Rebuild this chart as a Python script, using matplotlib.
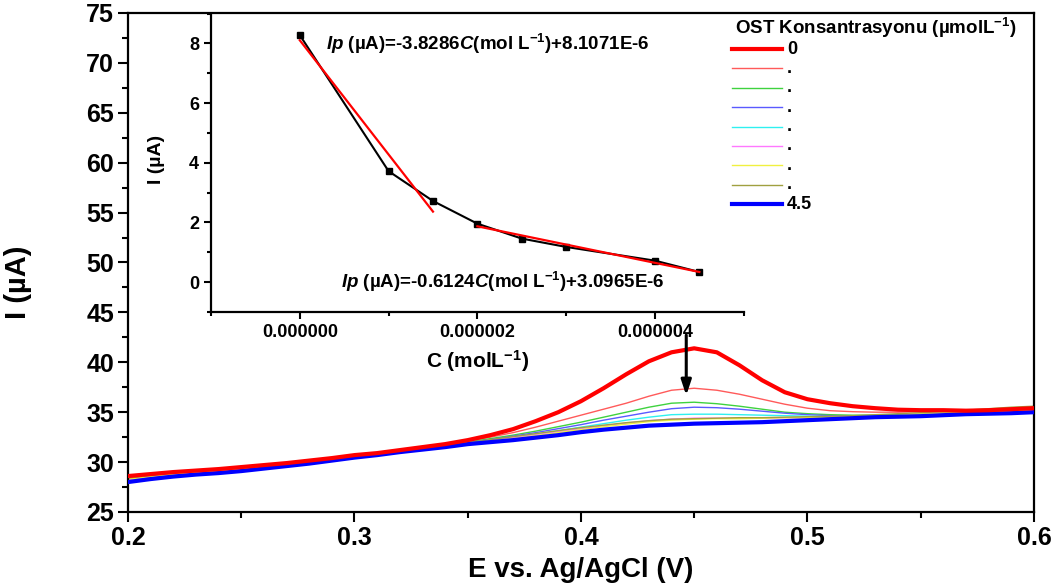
import matplotlib

matplotlib.use("Agg")
import matplotlib.pyplot as plt
import numpy as np
from matplotlib.ticker import FormatStrFormatter, MultipleLocator

plt.rcParams["font.family"] = ["Liberation Sans", "DejaVu Sans"]
plt.rcParams["font.weight"] = "bold"
plt.rcParams["axes.labelweight"] = "bold"
plt.rcParams["mathtext.fontset"] = "custom"
plt.rcParams["mathtext.rm"] = "Liberation Sans:bold"
plt.rcParams["mathtext.it"] = "Liberation Sans:italic:bold"
plt.rcParams["mathtext.bf"] = "Liberation Sans:bold"

# potential axis of the voltammograms (V)
potential = [0.20, 0.21, 0.22, 0.23, 0.24, 0.25, 0.26, 0.27, 0.28, 0.29,
             0.30, 0.31, 0.32, 0.33, 0.34, 0.35, 0.36, 0.37, 0.38, 0.39,
             0.40, 0.41, 0.42, 0.43, 0.44, 0.45, 0.46, 0.47, 0.48, 0.49,
             0.50, 0.51, 0.52, 0.53, 0.54, 0.55, 0.56, 0.57, 0.58, 0.59, 0.60]

# current (uA) for each OST concentration step
i_0 = [28.6, 28.8, 29.0, 29.15, 29.3, 29.5, 29.7, 29.9, 30.15, 30.4,
       30.7, 30.9, 31.2, 31.5, 31.8, 32.2, 32.7, 33.3, 34.1, 35.0,
       36.1, 37.4, 38.8, 40.1, 41.0, 41.4, 41.0, 39.7, 38.2, 37.0,
       36.3, 35.9, 35.6, 35.4, 35.25, 35.2, 35.2, 35.15, 35.2, 35.3, 35.4]
i_1 = [28.5, 28.7, 28.9, 29.1, 29.25, 29.45, 29.65, 29.85, 30.1, 30.35,
       30.65, 30.85, 31.15, 31.45, 31.75, 32.1, 32.5, 32.95, 33.5, 34.1,
       34.7, 35.3, 35.9, 36.6, 37.2, 37.4, 37.2, 36.8, 36.3, 35.8,
       35.4, 35.15, 35.05, 35.0, 35.0, 35.05, 35.1, 35.1, 35.15, 35.2, 35.3]
i_2 = [28.4, 28.65, 28.85, 29.05, 29.2, 29.4, 29.6, 29.8, 30.05, 30.3,
       30.6, 30.85, 31.15, 31.4, 31.7, 32.0, 32.35, 32.7, 33.1, 33.55,
       34.0, 34.5, 35.0, 35.5, 35.9, 36.0, 35.85, 35.6, 35.3, 35.0,
       34.85, 34.75, 34.7, 34.7, 34.75, 34.8, 34.9, 35.0, 35.1, 35.15, 35.25]
i_3 = [28.3, 28.6, 28.8, 29.0, 29.15, 29.35, 29.55, 29.75, 30.0, 30.25,
       30.55, 30.8, 31.1, 31.35, 31.65, 31.95, 32.25, 32.6, 32.95, 33.35,
       33.75, 34.2, 34.6, 35.0, 35.35, 35.5, 35.45, 35.3, 35.1, 34.9,
       34.75, 34.65, 34.6, 34.6, 34.65, 34.75, 34.85, 34.95, 35.05, 35.1, 35.2]
i_4 = [28.3, 28.55, 28.8, 29.0, 29.15, 29.3, 29.5, 29.7, 29.95, 30.2,
       30.5, 30.75, 31.05, 31.3, 31.6, 31.9, 32.2, 32.5, 32.8, 33.15,
       33.5, 33.85, 34.2, 34.5, 34.75, 34.8, 34.8, 34.75, 34.7, 34.65,
       34.6, 34.55, 34.55, 34.6, 34.65, 34.7, 34.8, 34.9, 35.0, 35.1, 35.15]
i_5 = [28.25, 28.5, 28.75, 28.95, 29.1, 29.3, 29.5, 29.7, 29.95, 30.2,
       30.5, 30.75, 31.05, 31.3, 31.6, 31.85, 32.15, 32.45, 32.75, 33.05,
       33.35, 33.65, 33.9, 34.15, 34.3, 34.4, 34.4, 34.4, 34.4, 34.45,
       34.45, 34.5, 34.5, 34.55, 34.6, 34.7, 34.8, 34.9, 35.0, 35.1, 35.2]
i_6 = [28.3, 28.55, 28.8, 29.0, 29.15, 29.35, 29.55, 29.75, 30.0, 30.25,
       30.55, 30.8, 31.05, 31.3, 31.55, 31.8, 32.1, 32.35, 32.65, 32.95,
       33.25, 33.55, 33.8, 34.05, 34.2, 34.3, 34.35, 34.35, 34.4, 34.45,
       34.45, 34.5, 34.55, 34.6, 34.7, 34.8, 34.9, 35.0, 35.1, 35.15, 35.25]
i_7 = [28.4, 28.65, 28.9, 29.1, 29.25, 29.45, 29.65, 29.85, 30.1, 30.35,
       30.65, 30.9, 31.2, 31.45, 31.7, 31.95, 32.25, 32.55, 32.85, 33.15,
       33.45, 33.7, 33.95, 34.15, 34.3, 34.35, 34.4, 34.45, 34.45, 34.5,
       34.55, 34.6, 34.65, 34.75, 34.85, 34.95, 35.05, 35.2, 35.35, 35.5, 35.6]
i_8 = [28.0, 28.3, 28.55, 28.75, 28.9, 29.1, 29.35, 29.6, 29.85, 30.15,
       30.45, 30.7, 31.0, 31.25, 31.5, 31.8, 32.0, 32.2, 32.45, 32.7,
       33.0, 33.25, 33.45, 33.65, 33.75, 33.85, 33.9, 33.95, 34.0, 34.1,
       34.2, 34.3, 34.4, 34.5, 34.55, 34.6, 34.7, 34.8, 34.85, 34.9, 35.0]

curves = [i_0, i_1, i_2, i_3, i_4, i_5, i_6, i_7, i_8]
curve_labels = ["0", ".", ".", ".", ".", ".", ".", ".", "4.5"]
curve_colors = ["#ff0000", "#ff5a5a", "#3fd23f", "#5a5aff", "#2ff0f0",
                "#ff78ff", "#f0f040", "#a0a040", "#0000ff"]
curve_widths = [3, 1, 1, 1, 1, 1, 1, 1, 3]

# peak current vs concentration (inset)
conc = [0.0, 1.0e-6, 1.5e-6, 2.0e-6, 2.5e-6, 3.0e-6, 4.0e-6, 4.5e-6]
ip = [8.28, 3.72, 2.72, 1.96, 1.46, 1.18, 0.72, 0.34]

# linear fits, slope per umol/L and intercept in uA
fit1_slope, fit1_icpt, fit1_range = -3.8286, 8.1071, (0.0, 1.5e-6)
fit2_slope, fit2_icpt, fit2_range = -0.6124, 3.0965, (2.0e-6, 4.5e-6)

W, H = 1055, 585
fig = plt.figure(figsize=(W / 100, H / 100), dpi=100)
ax = fig.add_axes([0.1213, 0.1248, 0.8587, 0.853])

order = [1, 2, 3, 4, 5, 6, 7, 8, 0]
for k in order:
    ax.plot(potential, curves[k], color=curve_colors[k], lw=curve_widths[k],
            zorder=3 if curve_widths[k] > 1 else 2)

ax.annotate("", xy=(0.4465, 36.4), xytext=(0.4465, 43.0),
            arrowprops=dict(arrowstyle="-|>,head_length=0.9,head_width=0.3",
                            color="black", lw=2.2), zorder=5)

ax.set_xlim(0.2, 0.6)
ax.set_ylim(25, 75)
ax.xaxis.set_major_locator(MultipleLocator(0.1))
ax.xaxis.set_minor_locator(MultipleLocator(0.05))
ax.yaxis.set_major_locator(MultipleLocator(5))
ax.yaxis.set_minor_locator(MultipleLocator(2.5))
ax.xaxis.set_major_formatter(FormatStrFormatter("%.1f"))
ax.tick_params(which="major", direction="out", length=7, width=1.5,
               labelsize=18, pad=3)
ax.tick_params(which="minor", direction="out", length=4, width=1.5)
for s in ax.spines.values():
    s.set_linewidth(1.6)
ax.set_xlabel("E vs. Ag/AgCl (V)", fontsize=20)
ax.set_ylabel("I (µA)", fontsize=21)
ax.xaxis.set_label_coords(0.5, -0.09)
ax.yaxis.set_label_coords(-0.106, 0.46)

# legend drawn by hand so each row sits where it should
leg_x0, leg_x1, leg_tx = 732, 782, 787
leg_y0, leg_dy = 49, 19.4
fig.text(735 / W, 1 - 28 / H, "OST Konsantrasyonu (µmolL$^{-1}$)",
         fontsize=13.5, va="center", ha="left")
for k, lab in enumerate(curve_labels):
    y = 1 - (leg_y0 + k * leg_dy) / H
    fig.add_artist(plt.Line2D([leg_x0 / W, leg_x1 / W], [y, y],
                              color=curve_colors[k], lw=curve_widths[k]))
    fig.text(leg_tx / W, y, lab, fontsize=13, va="center", ha="left")

# inset: peak current against concentration
ins = fig.add_axes([0.2, 0.4667, 0.505, 0.51])
ins.set_facecolor("none")
ins.plot(conc, ip, color="black", lw=1.5, marker="s", markersize=5, zorder=3)
fx1 = np.array(fit1_range)
fx2 = np.array(fit2_range)
ins.plot(fx1, fit1_icpt + fit1_slope * fx1 * 1e6, color="red", lw=1.6, zorder=4)
ins.plot(fx2, fit2_icpt + fit2_slope * fx2 * 1e6, color="red", lw=1.6, zorder=4)
ins.text(0.29e-6, 8.0,
         "$Ip$ (µA)=-3.8286$C$(mol L$^{-1}$)+8.1071E-6",
         fontsize=13.5, va="center", ha="left")
ins.text(0.46e-6, 0.0,
         "$Ip$ (µA)=-0.6124$C$(mol L$^{-1}$)+3.0965E-6",
         fontsize=13.5, va="center", ha="left")
ins.set_xlim(-1e-6, 5e-6)
ins.set_ylim(-1, 9)
ins.xaxis.set_major_locator(MultipleLocator(2e-6))
ins.xaxis.set_minor_locator(MultipleLocator(1e-6))
ins.yaxis.set_major_locator(MultipleLocator(2))
ins.yaxis.set_minor_locator(MultipleLocator(1))
ins.xaxis.set_major_formatter(FormatStrFormatter("%.6f"))
ins.yaxis.set_major_formatter(FormatStrFormatter("%d"))
ins.tick_params(which="major", direction="out", length=5, width=1.5,
                labelsize=13)
ins.tick_params(which="minor", direction="out", length=3, width=1.5)
ins.spines["top"].set_visible(False)
ins.spines["right"].set_visible(False)
ins.spines["left"].set_linewidth(1.6)
ins.spines["bottom"].set_linewidth(1.6)
ins.set_xlabel("C (molL$^{-1}$)", fontsize=15)
ins.set_ylabel("I (µA)", fontsize=14)
ins.xaxis.set_label_coords(0.5, -0.121)
ins.yaxis.set_label_coords(-0.086, 0.51)

fig.savefig("out.png", dpi=100)
